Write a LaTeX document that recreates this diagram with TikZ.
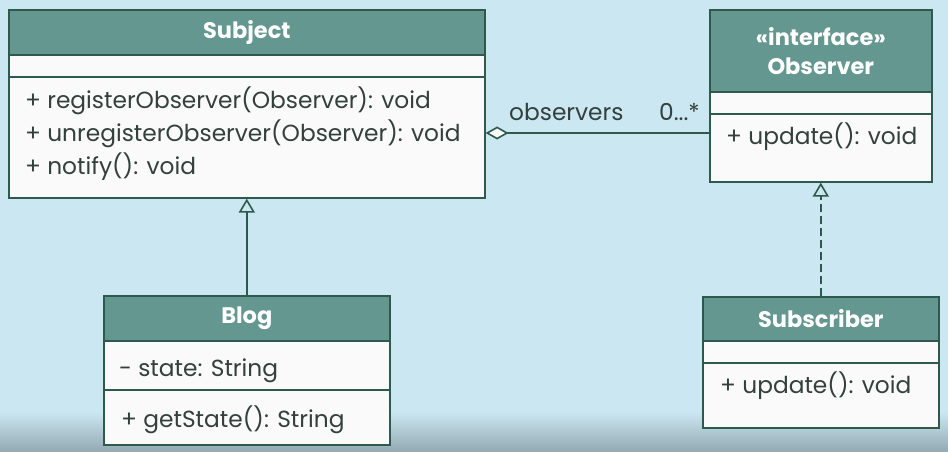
\documentclass[tikz,border=0pt]{standalone}
\usepackage{fontspec}
\setmainfont{Poppins}
\usetikzlibrary{arrows.meta}
\definecolor{bgblue}{HTML}{CBE7F1}
\definecolor{bgdark}{HTML}{93AAB3}
\definecolor{hdrteal}{HTML}{64978F}
\definecolor{umlline}{HTML}{2E5A4E}
\definecolor{secwhite}{HTML}{FAFAFA}
\definecolor{txtcol}{HTML}{33403B}
\begin{document}
\begin{tikzpicture}[x=1pt,y=-1pt,
  hdr/.style={draw=umlline, line width=1.6pt, fill=hdrteal, text=white,
    font=\fontsize{22.5}{29}\selectfont\bfseries, inner sep=0pt, anchor=north west, align=center},
  sec/.style={draw=umlline, line width=1.6pt, fill=secwhite, inner sep=0pt, anchor=north west},
  txt/.style={text=txtcol, font=\fontsize{23.3}{25}\selectfont, inner sep=0pt, anchor=base west},
  conn/.style={draw=umlline, line width=1.6pt}]
\fill[bgblue] (0,0) rectangle (948,451);
\shade[top color=bgblue, bottom color=bgdark] (0,412) rectangle (948,451);
\useasboundingbox (0,0) rectangle (948,451);

% Subject
\node[hdr, minimum width=476pt, minimum height=45pt] (subjH) at (8,9) {Subject};
\node[sec, minimum width=476pt, minimum height=22pt] (subjA) at (8,54) {};
\node[sec, minimum width=476pt, minimum height=121pt] (subjM) at (8,76) {};
\node[txt] (subjM1) at (25,108) {+ registerObserver(Observer): void};
\node[txt] (subjM2) at (25,141) {+ unregisterObserver(Observer): void};
\node[txt] (subjM3) at (25,174) {+ notify(): void};

% Observer
\node[hdr, minimum width=222pt, minimum height=82pt] (obsH) at (709,9) {«interface»\\Observer};
\node[sec, minimum width=222pt, minimum height=22pt] (obsA) at (709,91) {};
\node[sec, minimum width=222pt, minimum height=68pt] (obsM) at (709,113) {};
\node[txt] (obsM1) at (726,144) {+ update(): void};

% Blog
\node[hdr, minimum width=286pt, minimum height=45pt] (blogH) at (103,295) {Blog};
\node[sec, minimum width=286pt, minimum height=49pt] (blogA) at (103,340) {};
\node[sec, minimum width=286pt, minimum height=55pt] (blogM) at (103,389) {};
\node[txt] (blogA1) at (119,376) {- state: String};
\node[txt] (blogM1) at (121,427) {+ getState(): String};

% Subscriber
\node[hdr, minimum width=236pt, minimum height=44pt] (subsH) at (702,296) {Subscriber};
\node[sec, minimum width=236pt, minimum height=22pt] (subsA) at (702,340) {};
\node[sec, minimum width=236pt, minimum height=65pt] (subsM) at (702,362) {};
\node[txt] (subsM1) at (720,393) {+ update(): void};

% connectors
\coordinate (aggY) at (0,133);
\draw[conn, {Diamond[open, length=23pt, width=13pt, fill=secwhite]}-] (subjM.east |- aggY) -- (obsM.west |- aggY);
\node[txt] (lblobs) at (509,120) {observers};
\node[txt, anchor=base east] (lblmult) at (700,120) {0...*};
\draw[conn, -{Triangle[open, length=14pt, width=16pt]}] (blogH.north) -- (blogH.north |- subjM.south);
\draw[conn, dash pattern=on 8pt off 4pt, -{Triangle[open, length=14pt, width=16pt]}] (subsH.north) -- (subsH.north |- obsM.south);
\end{tikzpicture}
\end{document}
